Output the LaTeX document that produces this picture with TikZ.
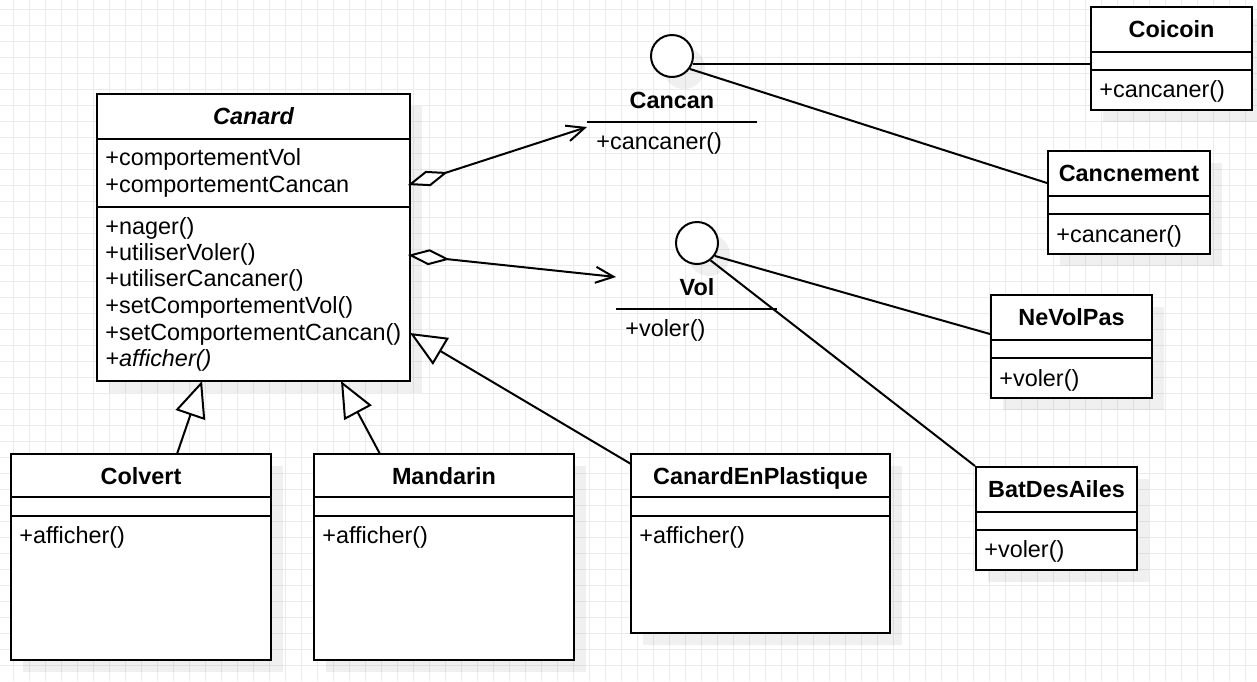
\documentclass[tikz,border=0pt]{standalone}
\usepackage{fontspec}
\setmainfont{Liberation Sans}
\usetikzlibrary{arrows.meta,shadows,fit}

% separator line across a class box at height #2
\newcommand\umlsep[2]{\draw[sepline] (#1.west |- 0,#2) -- (#1.east |- 0,#2);}

\begin{document}
\begin{tikzpicture}[x=0.5pt,y=-0.5pt,
  every node/.style={font=\fontsize{11.7}{14}\selectfont},
  gridline/.style={draw=black!8, line width=0.5pt},
  umlshadow/.style={drop shadow={shadow xshift=6pt,shadow yshift=-6pt,fill=black,opacity=0.06}},
  classbox/.style={draw, line width=1pt, fill=white, inner sep=0pt, umlshadow},
  sepline/.style={line width=1pt},
  member/.style={anchor=west, inner sep=0pt, text height=0.75em, text depth=0.2em, yshift=-1.5pt},
  ctitle/.style={inner sep=0pt, font=\fontsize{11.7}{14}\selectfont\bfseries, text height=0.75em, text depth=0.2em, yshift=-1.5pt},
  iface/.style={circle, draw, line width=1pt, fill=white, minimum size=21pt, inner sep=0pt, umlshadow},
  link/.style={line width=1pt},
  agg/.style={line width=1pt, {Diamond[fill=white,length=21pt,width=8pt]}-{Straight Barb[length=9pt,width=8pt]}},
  inherit/.style={line width=1pt, -{Triangle[fill=white,length=18pt,width=15.5pt]}}
]
\useasboundingbox (0,0) rectangle (1257,681);
\fill[white] (0,0) rectangle (1257,681);

% background grid
\foreach \k in {0,...,77} \draw[gridline] ({13.3+16*\k},0) -- ({13.3+16*\k},681);
\foreach \k in {0,...,41} \draw[gridline] (0,{9.3+16*\k}) -- (1257,{9.3+16*\k});

% ---- abstract class Canard ----
\node[classbox, fit={(97,94) (410,381)}] (canard) {};
\umlsep{canard}{139}
\umlsep{canard}{207}
\node[ctitle] (canard-t) at (253.5,116) {\itshape Canard};
\node[member] (canard-a1) at (105,157) {+comportementVol};
\node[member] (canard-a2) at (105,184) {+comportementCancan};
\node[member] (canard-m1) at (105,226) {+nager()};
\node[member] (canard-m2) at (105,252) {+utiliserVoler()};
\node[member] (canard-m3) at (105,278) {+utiliserCancaner()};
\node[member] (canard-m4) at (105,305) {+setComportementVol()};
\node[member] (canard-m5) at (105,332) {+setComportementCancan()};
\node[member] (canard-m6) at (105,358) {\itshape +afficher()};

% ---- subclasses ----
\node[classbox, fit={(11,454) (271,660)}] (colvert) {};
\umlsep{colvert}{497}
\umlsep{colvert}{516}
\node[ctitle] (colvert-t) at (141,476) {Colvert};
\node[member] (colvert-m1) at (19,535) {+afficher()};

\node[classbox, fit={(314,454) (574,660)}] (mandarin) {};
\umlsep{mandarin}{497}
\umlsep{mandarin}{516}
\node[ctitle] (mandarin-t) at (444,476) {Mandarin};
\node[member] (mandarin-m1) at (322,535) {+afficher()};

\node[classbox, fit={(631,454) (890,633)}] (plastique) {};
\umlsep{plastique}{497}
\umlsep{plastique}{516}
\node[ctitle] (plastique-t) at (760.5,476) {CanardEnPlastique};
\node[member] (plastique-m1) at (639,535) {+afficher()};

% ---- interfaces ----
\node[iface] (cancan) at (672,56) {};
\node[ctitle] (cancan-t) at (672,100) {Cancan};
\coordinate (cancan-l) at (587,122);
\coordinate (cancan-r) at (757,122);
\draw[sepline] (cancan-l) -- (cancan-r);
\node[member] (cancan-m1) at (596,141) {+cancaner()};

\node[iface] (vol) at (697,243) {};
\node[ctitle] (vol-t) at (697,287) {Vol};
\coordinate (vol-l) at (616,309);
\coordinate (vol-r) at (777,309);
\draw[sepline] (vol-l) -- (vol-r);
\node[member] (vol-m1) at (625,328) {+voler()};

% ---- implementations ----
\node[classbox, fit={(1091,7) (1252,110)}] (coicoin) {};
\umlsep{coicoin}{52}
\umlsep{coicoin}{70}
\node[ctitle] (coicoin-t) at (1171.5,29) {Coicoin};
\node[member] (coicoin-m1) at (1099,89) {+cancaner()};

\node[classbox, fit={(1048,151) (1210,254)}] (cancnement) {};
\umlsep{cancnement}{196}
\umlsep{cancnement}{214}
\node[ctitle] (cancnement-t) at (1129,173) {Cancnement};
\node[member] (cancnement-m1) at (1056,234) {+cancaner()};

\node[classbox, fit={(991,295) (1152,398)}] (nevolpas) {};
\umlsep{nevolpas}{340}
\umlsep{nevolpas}{358}
\node[ctitle] (nevolpas-t) at (1071.5,317) {NeVolPas};
\node[member] (nevolpas-m1) at (999,378) {+voler()};

\node[classbox, fit={(976,467) (1137,570)}] (batdesailes) {};
\umlsep{batdesailes}{512}
\umlsep{batdesailes}{530}
\node[ctitle] (batdesailes-t) at (1056.5,489) {BatDesAiles};
\node[member] (batdesailes-m1) at (984,549) {+voler()};

% ---- connectors ----
% aggregations from Canard to the two behaviour interfaces
\coordinate (canard-cancan) at ([xshift=-1.5pt]canard.east |- 0,185);
\coordinate (canard-vol) at ([xshift=-1.5pt]canard.east |- 0,255);
\coordinate (cancan-in) at (587,127);
\coordinate (vol-in) at (616,277);
\draw[agg] (canard-cancan) -- (cancan-in);
\draw[agg] (canard-vol) -- (vol-in);

% generalisations
\coordinate (colvert-up) at (177,454);
\coordinate (mandarin-up) at (380,454);
\coordinate (plastique-up) at (631,464);
\coordinate (canard-g1) at (202,381);
\coordinate (canard-g2) at (341,381);
\coordinate (canard-g3) at (410,333);
\draw[inherit] (colvert-up) -- (canard-g1);
\draw[inherit] (mandarin-up) -- (canard-g2);
\draw[inherit] (plastique-up) -- (canard-g3);

% realisations of the interfaces (lollipop notation)
\draw[link] (cancan.-20) -- (coicoin.west |- cancan.-20);
\draw[link] (cancan.-36) -- (cancnement.west |- 0,183);
\draw[link] (vol.-36) -- (nevolpas.west |- 0,334);
\draw[link] (vol.-52) -- (batdesailes.north west);
\end{tikzpicture}
\end{document}
